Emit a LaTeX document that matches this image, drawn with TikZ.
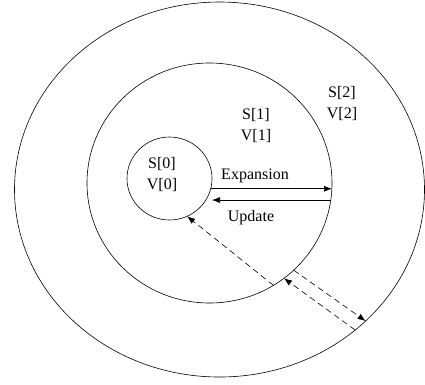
\documentclass[tikz,border=0pt]{standalone}
\usepackage{fontspec}
\setmainfont{Liberation Serif}
\usepackage{tikz}
\usetikzlibrary{arrows.meta}
\usetikzlibrary{shapes.geometric}

\begin{document}
\begin{tikzpicture}[x=1pt, y=-1pt, line width=0.6pt,
  every node/.style = {align=center, font=\fontsize{16}{21}\selectfont},
  ring/.style = {draw, ellipse, inner sep=0pt, outer sep=0pt},
  tip/.style = {-{Latex[length=8pt,width=6pt]}},
  probe/.style = {draw, tip, dash pattern=on 6pt off 4pt}]
  \useasboundingbox (0,0) rectangle (425,384);
  \node [ring, minimum width=410, minimum height=375] (outer) at (219.5,189.5) {};
  \node [ring, minimum width=245, minimum height=240] (middle) at (209.5,183) {};
  \node [ring, minimum width=85, minimum height=83] (inner) at (169.5,178.5) {};
  \node (lab0) at (162,174.5) {S[0]\\V[0]};
  \node (lab1) at (256,125.5) {S[1]\\V[1]};
  \node (lab2) at (342,103.5) {S[2]\\V[2]};
  \node (expand) at (255,176) {Expansion};
  \node (update) at (251,218) {Update};
  \path [draw, tip] (inner.-14) -- (inner.-14 -| middle.east);
  \path [draw, tip] (middle.-8) -- (middle.-8 -| inner.east);
  \path [probe] (middle.-58) -- (inner.-65);
  \path [probe] (middle.-46) -- (outer.-42);
  \path [probe] (outer.-46.6) -- (middle.-52.5);
\end{tikzpicture}
\end{document}
